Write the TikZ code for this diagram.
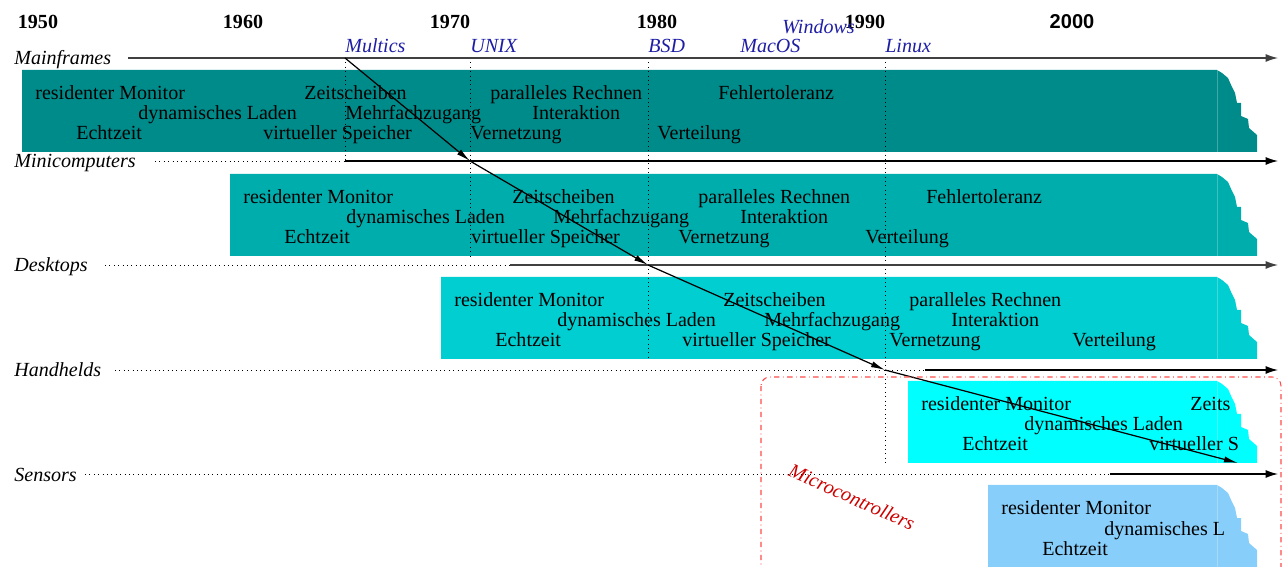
\documentclass[tikz,border=0pt]{standalone}
\usepackage{fontspec}
\setmainfont{Liberation Serif}
\newfontfamily\yearsans{Liberation Sans}
\usetikzlibrary{arrows.meta}
\usetikzlibrary{positioning}

\definecolor{mainfr}{RGB}{0,139,139}
\definecolor{minic}{RGB}{0,173,173}
\definecolor{deskt}{RGB}{0,206,209}
\definecolor{handh}{RGB}{0,255,255}
\definecolor{sens}{RGB}{135,206,250}
\definecolor{osblue}{RGB}{30,30,165}
\definecolor{mcred}{RGB}{205,0,0}

\newcommand{\chartsize}{\fontsize{11.4}{13}\selectfont}

\tikzset{
  year/.style={font=\chartsize\bfseries, anchor=base, inner sep=0},
  osname/.style={font=\chartsize\itshape, text=osblue, anchor=base west, inner sep=0},
  rowname/.style={font=\chartsize\itshape, anchor=base west, inner sep=0},
  feature/.style={font=\chartsize, anchor=base west, inner sep=0},
  timeline/.style={line width=0.7pt, -{Latex[length=7pt,width=4.5pt]}},
  leadin/.style={dotted, line width=0.5pt},
  marker/.style={dotted, line width=0.5pt},
  lineage/.style={line width=0.7pt, -{Latex[length=8pt,width=3.5pt]}},
}

% band with the ragged right end, #2/#3 = left/top
\newcommand{\drawband}[3]{%
  \fill[#1] (#2,#3) -- (1217,#3) -- ++(5,3) -- ++(6,5) -- ++(4,9) -- ++(3,6)
    -- ++(2,10) -- ++(4,0) -- ++(0,13) -- ++(7,3) -- ++(1,9) -- ++(8,7)
    -- (1257,#3+82) -- (#2,#3+82) -- cycle;
  \draw[white, opacity=.25] (1217,#3) -- (1217,#3+82);}

\begin{document}
\begin{tikzpicture}[x=0.02cm, y=-0.02cm]
  \useasboundingbox (0,0) rectangle (1285,567);
  \clip (0,0) rectangle (1285,567);

  \drawband{mainfr}{22}{70}
  \drawband{minic}{230}{174}
  \drawband{deskt}{441}{277}
  \drawband{handh}{908}{381}
  \drawband{sens}{988}{485}

  % years
  \node[year] (y1950) at (38,29) {1950};
  \node[year] (y1960) at (243,29) {1960};
  \node[year] (y1970) at (450,29) {1970};
  \node[year] (y1980) at (657,29) {1980};
  \node[year] (y1990) at (865,29) {1990};
  \node[year, font=\chartsize\yearsans\bfseries] (y2000) at (1072,29) {2000};

  % systems
  \node[osname] (multicsname) at (345,53) {Multics};
  \node[osname] (unixname) at (470,53) {UNIX};
  \node[osname] (bsdname) at (648,53) {BSD};
  \node[osname] (macosname) at (740,53) {MacOS};
  \node[osname] (windowsname) at (782,34) {Windows};
  \node[osname] (linuxname) at (885,53) {Linux};

  \coordinate (multics) at (345,58);
  \coordinate (unix) at (470,161);
  \coordinate (bsd) at (648,265);
  \coordinate (linux) at (885,370);
  \coordinate (hhend) at (1238,463);

  \draw[marker] (multics) -- (345,161);
  \draw[marker] (470,58) -- (470,256);
  \draw[marker] (648,58) -- (648,359);
  \draw[marker] (885,58) -- (885,463);

  % rows
  \node[rowname] (mainframes) at (14,65) {Mainframes};
  \node[rowname] (minicomputers) at (14,168) {Minicomputers};
  \node[rowname] (desktops) at (14,272) {Desktops};
  \node[rowname] (handhelds) at (14,377) {Handhelds};
  \node[rowname] (sensors) at (14,481) {Sensors};

  \draw[timeline, black!75] (128,58) -- (1278,58);
  \draw[leadin] (155,161) -- (unix -| multics);
  \draw[timeline] (unix -| multics) -- (1278,161);
  \draw[leadin] (105,265) -- (510,265);
  \draw[timeline, black!75] (510,265) -- (1278,265);
  \draw[leadin] (115,370) -- (925,370);
  \draw[timeline] (925,370) -- (1278,370);
  \draw[leadin] (85,474) -- (1110,474);
  \draw[timeline] (1110,474) -- (1278,474);

  % features
  \begin{scope}[shift={(22,70)}]
    \node[feature] (mf-monitor) at (13,30) {residenter Monitor};
    \node[feature] (mf-zeit) at (282,30) {Zeitscheiben};
    \node[feature] (mf-parallel) at (468,30) {paralleles Rechnen};
    \node[feature] (mf-fehler) at (696,30) {Fehlertoleranz};
    \node[feature] (mf-laden) at (116,50) {dynamisches Laden};
    \node[feature] (mf-zugang) at (323,50) {Mehrfachzugang};
    \node[feature] (mf-inter) at (510,50) {Interaktion};
    \node[feature] (mf-echt) at (54,70) {Echtzeit};
    \node[feature] (mf-speicher) at (241,70) {virtueller Speicher};
    \node[feature] (mf-netz) at (448,70) {Vernetzung};
    \node[feature] (mf-verteil) at (635,70) {Verteilung};
  \end{scope}
  \begin{scope}[shift={(230,174)}]
    \node[feature] (mc-monitor) at (13,30) {residenter Monitor};
    \node[feature] (mc-zeit) at (282,30) {Zeitscheiben};
    \node[feature] (mc-parallel) at (468,30) {paralleles Rechnen};
    \node[feature] (mc-fehler) at (696,30) {Fehlertoleranz};
    \node[feature] (mc-laden) at (116,50) {dynamisches Laden};
    \node[feature] (mc-zugang) at (323,50) {Mehrfachzugang};
    \node[feature] (mc-inter) at (510,50) {Interaktion};
    \node[feature] (mc-echt) at (54,70) {Echtzeit};
    \node[feature] (mc-speicher) at (241,70) {virtueller Speicher};
    \node[feature] (mc-netz) at (448,70) {Vernetzung};
    \node[feature] (mc-verteil) at (635,70) {Verteilung};
  \end{scope}
  \begin{scope}[shift={(441,277)}]
    \node[feature] (dt-monitor) at (13,30) {residenter Monitor};
    \node[feature] (dt-zeit) at (282,30) {Zeitscheiben};
    \node[feature] (dt-parallel) at (468,30) {paralleles Rechnen};
    \node[feature] (dt-laden) at (116,50) {dynamisches Laden};
    \node[feature] (dt-zugang) at (323,50) {Mehrfachzugang};
    \node[feature] (dt-inter) at (510,50) {Interaktion};
    \node[feature] (dt-echt) at (54,70) {Echtzeit};
    \node[feature] (dt-speicher) at (241,70) {virtueller Speicher};
    \node[feature] (dt-netz) at (448,70) {Vernetzung};
    \node[feature] (dt-verteil) at (631,70) {Verteilung};
  \end{scope}
  \begin{scope}[shift={(908,381)}]
    \node[feature] (hh-monitor) at (13,30) {residenter Monitor};
    \node[feature] (hh-zeit) at (282,30) {Zeits};
    \node[feature] (hh-laden) at (116,50) {dynamisches Laden};
    \node[feature] (hh-echt) at (54,70) {Echtzeit};
    \node[feature] (hh-speicher) at (241,70) {virtueller S};
  \end{scope}
  \begin{scope}[shift={(988,485)}]
    \node[feature] (sn-monitor) at (13,30) {residenter Monitor};
    \node[feature] (sn-laden) at (116,50) {dynamisches L};
    \node[feature] (sn-echt) at (54,70) {Echtzeit};
  \end{scope}

  % lineage of the systems
  \draw[lineage] (multics) -- (unix);
  \draw[lineage] (unix) -- (bsd);
  \draw[lineage] (bsd) -- (linux);
  \draw[lineage] (linux) -- (hhend);

  \draw[red!70, dash dot, line width=0.6pt, rounded corners=5pt] (761,377) rectangle (1281,585);
  \node[font=\chartsize\itshape, text=mcred, rotate=-24] (microcontrollers) at (852,497) {Microcontrollers};
\end{tikzpicture}
\end{document}
